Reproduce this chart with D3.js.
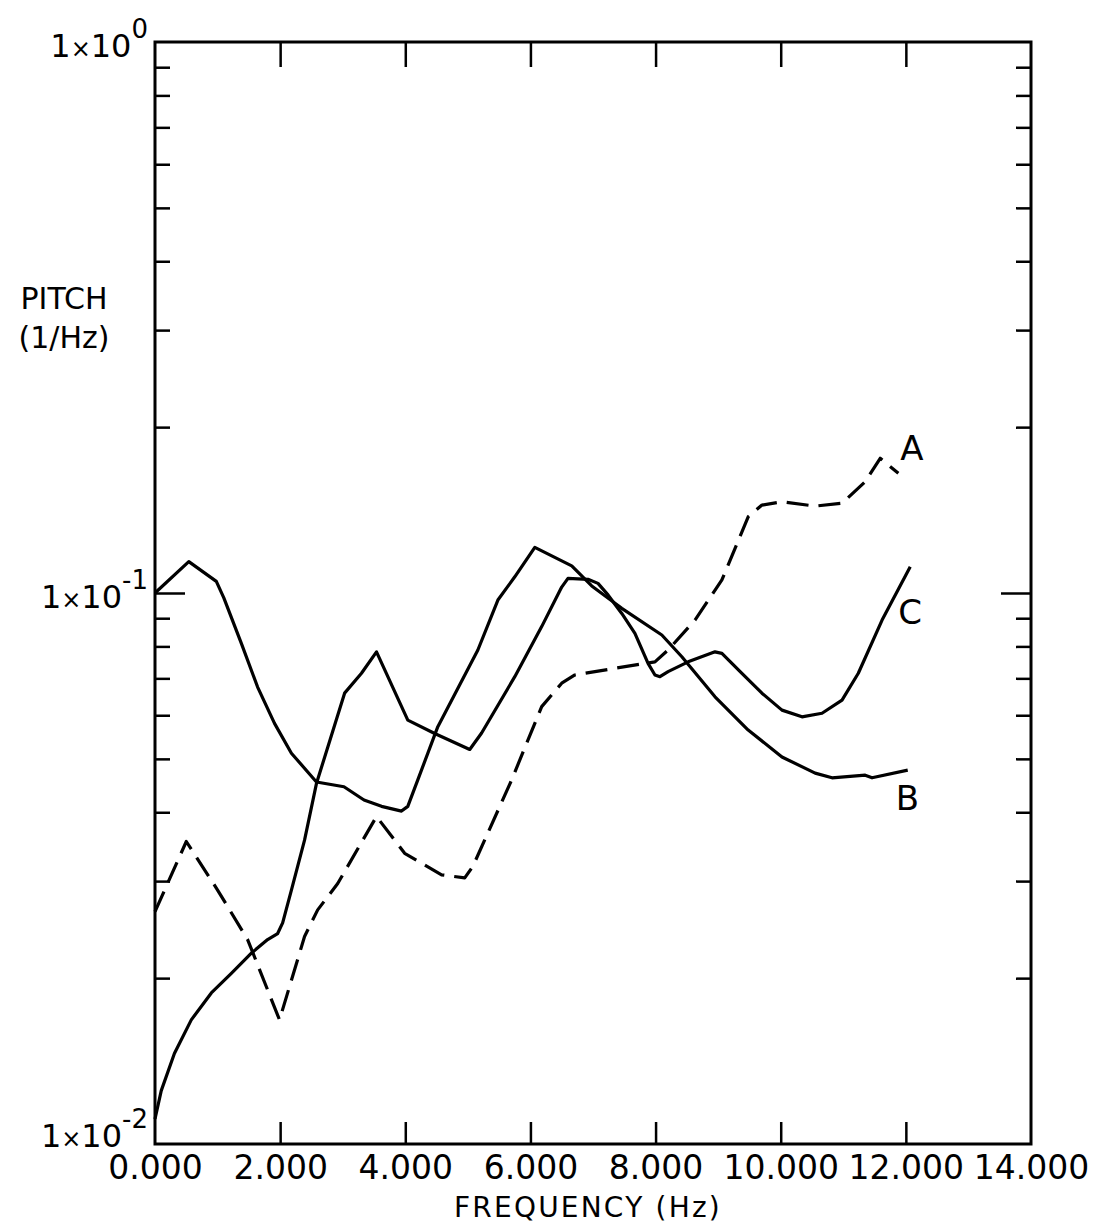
<!DOCTYPE html>
<html>
<head>
<meta charset="utf-8">
<script src="https://cdn.jsdelivr.net/npm/d3@7"></script>
<style>
  body { margin: 0; background: #fff; }
  svg { display: block; font-family: 'DejaVu Sans', sans-serif; }
</style>
</head>
<body>
<div id="chart"></div>
<script>
// x axis ticks (Hz) and their printed labels
const freqTicks = [0, 2000, 4000, 6000, 8000, 10000, 12000, 14000];
const freqTickLabels = ['0.000', '2.000', '4.000', '6.000', '8.000', '10.000', '12.000', '14.000'];

// y axis (log) ticks
const pitchMajor = [0.01, 0.1, 1];
const pitchMajorExp = ['-2', '-1', '0'];
const pitchMinor = [0.02, 0.03, 0.04, 0.05, 0.06, 0.07, 0.08, 0.09,
  0.2, 0.3, 0.4, 0.5, 0.6, 0.7, 0.8, 0.9];

// curve A (dashed)
const aFreq = [0, 500, 1000, 1480, 1990, 2390, 2600, 2920, 3540, 3990, 4580, 4950, 5080,
  5700, 6180, 6500, 6710, 7350, 7990, 8200, 8630, 9060, 9480, 9700, 10020, 10550, 10980,
  11350, 11590, 11880];
const aPitch = [0.0264, 0.0354, 0.0289, 0.0235, 0.0168, 0.0238, 0.0266, 0.0297, 0.0393,
  0.0337, 0.0308, 0.0304, 0.0319, 0.0458, 0.0622, 0.0686, 0.071, 0.073, 0.075, 0.0788,
  0.0893, 0.1056, 0.1375, 0.1444, 0.1464, 0.1438, 0.1455, 0.1592, 0.1756, 0.1649];

// curve B
const bFreq = [0, 540, 980, 1100, 1380, 1640, 1910, 2180, 2580, 3020, 3340, 3620, 3940,
  4040, 4200, 4520, 5160, 5480, 5750, 6070, 6660, 6980, 7460, 8100, 8420, 8950, 9480,
  10020, 10550, 10820, 11350, 11460, 12030];
const bPitch = [0.1, 0.114, 0.105, 0.098, 0.081, 0.0675, 0.058, 0.0512, 0.0454, 0.0445,
  0.0421, 0.041, 0.0402, 0.041, 0.0458, 0.0572, 0.0788, 0.0971, 0.107, 0.121, 0.112,
  0.103, 0.0938, 0.0839, 0.0766, 0.0648, 0.0564, 0.0504, 0.0471, 0.0462, 0.0467, 0.0462,
  0.0477];

// curve C
const cFreq = [0, 100, 310, 580, 900, 1220, 1540, 1800, 1960, 2040, 2180, 2390, 2580,
  3030, 3300, 3540, 4040, 4470, 5030, 5220, 5750, 6180, 6500, 6600, 6920, 7080, 7240,
  7460, 7670, 7880, 7990, 8070, 8200, 8520, 8950, 9060, 9380, 9700, 10020, 10340, 10660,
  10980, 11240, 11620, 12070];
const cPitch = [0.0111, 0.0125, 0.0146, 0.0168, 0.0188, 0.0204, 0.0222, 0.0235, 0.0241,
  0.0252, 0.0289, 0.0356, 0.0451, 0.0658, 0.0715, 0.0782, 0.0588, 0.0556, 0.052, 0.0557,
  0.0705, 0.0869, 0.1025, 0.1063, 0.1059, 0.1041, 0.0992, 0.0918, 0.0845, 0.0745, 0.071,
  0.0705, 0.072, 0.075, 0.0782, 0.0777, 0.0715, 0.0658, 0.0613, 0.0596, 0.0605, 0.0639,
  0.0715, 0.0893, 0.1116];

const width = 1094;
const height = 1230;
const font = "'DejaVu Sans', sans-serif";

const svg = d3.select('#chart').append('svg')
  .attr('width', width)
  .attr('height', height);

svg.append('rect').attr('width', width).attr('height', height).attr('fill', '#fff');

const x = d3.scaleLinear().domain([0, 14000]).range([155, 1031]);
const y = d3.scaleLog().domain([0.01, 1]).range([1144, 42]);

// frame
svg.append('rect')
  .attr('x', x(0))
  .attr('y', y(1))
  .attr('width', x(14000) - x(0))
  .attr('height', y(0.01) - y(1))
  .attr('fill', 'none')
  .attr('stroke', '#000')
  .attr('stroke-width', 3);

// bottom axis: inward ticks + labels
const xAxisBottom = svg.append('g')
  .attr('transform', `translate(0,${y(0.01)})`)
  .call(d3.axisBottom(x)
    .tickValues(freqTicks)
    .tickSizeInner(-22)
    .tickSizeOuter(0)
    .tickPadding(12)
    .tickFormat((d, i) => freqTickLabels[i]));
xAxisBottom.select('.domain').remove();
xAxisBottom.selectAll('.tick line')
  .attr('stroke', '#000')
  .attr('stroke-width', 2.5)
  .filter((d) => d === 0 || d === 14000)
  .remove();
xAxisBottom.selectAll('.tick text')
  .attr('fill', '#000')
  .style('font-family', font)
  .style('font-size', '33px');

// top axis: inward ticks only
const xAxisTop = svg.append('g')
  .attr('transform', `translate(0,${y(1)})`)
  .call(d3.axisTop(x)
    .tickValues(freqTicks.slice(1, -1))
    .tickSizeInner(-25)
    .tickSizeOuter(0)
    .tickFormat(''));
xAxisTop.select('.domain').remove();
xAxisTop.selectAll('.tick line').attr('stroke', '#000').attr('stroke-width', 2.5);

// left + right axes
function yTicks(axisFn, xPos, values, size) {
  const g = svg.append('g')
    .attr('transform', `translate(${xPos},0)`)
    .call(axisFn(y).tickValues(values).tickSizeInner(size).tickSizeOuter(0).tickFormat(''));
  g.select('.domain').remove();
  g.selectAll('.tick line').attr('stroke', '#000').attr('stroke-width', 2.5);
}
yTicks(d3.axisLeft, x(0), pitchMinor, -15);
yTicks(d3.axisLeft, x(0), [0.1], -30);
yTicks(d3.axisRight, x(14000), pitchMinor, -15);
yTicks(d3.axisRight, x(14000), [0.1], -30);

// y labels 1x10^n
pitchMajor.forEach((v, i) => {
  const t = svg.append('text')
    .attr('x', 148)
    .attr('y', y(v) + (i === 0 ? 3 : 15))
    .attr('text-anchor', 'end')
    .style('font-family', font)
    .style('font-size', '32px')
    .attr('fill', '#000');
  t.append('tspan').text('1');
  t.append('tspan').style('font-size', '24px').text('×');
  t.append('tspan').text('10');
  t.append('tspan').attr('dy', -19).style('font-size', '26px').text(pitchMajorExp[i]);
});

// axis titles
svg.append('text')
  .attr('x', 64).attr('y', 309)
  .attr('text-anchor', 'middle')
  .style('font-family', font).style('font-size', '30px')
  .text('PITCH');
svg.append('text')
  .attr('x', 64).attr('y', 348)
  .attr('text-anchor', 'middle')
  .style('font-family', font).style('font-size', '30px')
  .text('(1/Hz)');
svg.append('text')
  .attr('x', 588).attr('y', 1217)
  .attr('text-anchor', 'middle')
  .style('font-family', font).style('font-size', '28px')
  .style('letter-spacing', '2.2px')
  .text('FREQUENCY (Hz)');

// curves
const line = d3.line().x((d) => x(d[0])).y((d) => y(d[1]));
const series = [
  { name: 'A', f: aFreq, p: aPitch, dash: '22 10', dx: 2, dy: -13 },
  { name: 'B', f: bFreq, p: bPitch, dash: null, dx: -12, dy: 40 },
  { name: 'C', f: cFreq, p: cPitch, dash: null, dx: -12, dy: 57 },
];

series.forEach((s) => {
  const pts = s.f.map((f, i) => [f, s.p[i]]);
  svg.append('path')
    .datum(pts)
    .attr('d', line)
    .attr('fill', 'none')
    .attr('stroke', '#000')
    .attr('stroke-width', 3.2)
    .attr('stroke-linejoin', 'round')
    .attr('stroke-dasharray', s.dash);
  const last = pts[pts.length - 1];
  svg.append('text')
    .attr('x', x(last[0]) + s.dx)
    .attr('y', y(last[1]) + s.dy)
    .style('font-family', font)
    .style('font-size', '34px')
    .text(s.name);
});
</script>
</body>
</html>
